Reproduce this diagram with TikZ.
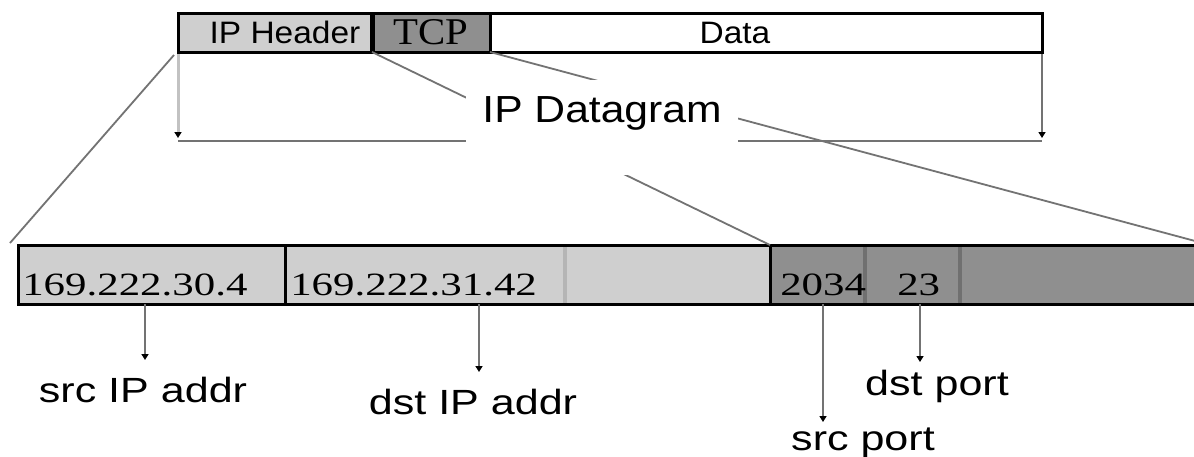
\documentclass[tikz,border=0pt]{standalone}
\usepackage{fontspec}
\setmainfont{Liberation Serif}
\setsansfont{Liberation Sans}
\usetikzlibrary{arrows.meta}
\definecolor{lightcell}{HTML}{CFCFCF}
\definecolor{darkcell}{HTML}{8F8F8F}
\definecolor{wire}{HTML}{737373}
\definecolor{paleline}{HTML}{C2C2C2}
\definecolor{sepgray}{HTML}{707070}

\begin{document}
\begin{tikzpicture}[x=1pt,y=-1pt,
    hcell/.style={draw=black,line width=3pt,anchor=north west,minimum height=39pt,inner sep=0,outer sep=0},
    bcell/.style={anchor=north west,minimum height=59pt,inner sep=0,outer sep=0},
    hdrtxt/.style={font=\sffamily\fontsize{31}{31}\selectfont,xscale=1.08,inner sep=0},
    digit/.style={font=\fontsize{32.5}{32.5}\selectfont,xscale=1.32,inner sep=0,anchor=base west},
    field/.style={font=\sffamily\fontsize{35}{35}\selectfont,xscale=1.23,inner sep=0,anchor=base},
    tipdown/.style={-{Triangle[length=6pt,width=7pt,color=black]}},
    pointer/.style={draw=wire,line width=2.2pt,tipdown},
    diag/.style={draw=wire,line width=1.8pt}]
  \useasboundingbox (0,0) rectangle (1194,456);
  \clip (0,0) rectangle (1194,456);
  \fill[white] (0,0) rectangle (1194,456);

  % datagram bar
  \node[hcell,fill=lightcell,minimum width=194pt] (iph) at (178,13) {};
  \node[hcell,fill=darkcell,minimum width=118pt] (tcp) at (iph.north east) {};
  \node[hcell,fill=white,minimum width=552pt] (data) at (tcp.north east) {};
  \draw[line width=5pt] (tcp.north west) -- (tcp.south west);
  \node[hdrtxt] (iphtxt) at ([xshift=10pt]iph.center) {IP Header};
  \node[font=\fontsize{37.8}{37.8}\selectfont,xscale=1.08,inner sep=0] (tcptxt) at (tcp.center) {TCP};
  \node[hdrtxt] (datatxt) at ([xshift=-31pt]data.center) {Data};

  % packet fields
  \node[bcell,fill=lightcell,minimum width=267pt] (c1) at (18,245) {};
  \node[bcell,fill=lightcell,minimum width=280pt] (c2) at (c1.north east) {};
  \node[bcell,fill=lightcell,minimum width=205pt] (c3) at (c2.north east) {};
  \node[bcell,fill=darkcell,minimum width=95pt] (c4) at (c3.north east) {};
  \node[bcell,fill=darkcell,minimum width=95pt] (c5) at (c4.north east) {};
  \node[bcell,fill=darkcell,minimum width=250pt] (c6) at (c5.north east) {};
  \draw[line width=4pt,draw=paleline!80!gray] (c3.north west) -- (c3.south west);
  \foreach \n in {c5,c6}
    \draw[line width=4pt,draw=sepgray] (\n.north west) -- (\n.south west);
  \foreach \n in {c2,c4}
    \draw[line width=3pt] (\n.north west) -- (\n.south west);
  \draw[line width=3pt] (c6.north east) -- (c1.north west) -- (c1.south west) -- (c6.south east);

  \node[digit] (sipval) at ([xshift=4pt,yshift=9pt]c1.south west) {169.222.30.4};
  \node[digit] (dipval) at ([xshift=5pt,yshift=9pt]c2.south west) {169.222.31.42};
  \node[digit] (sptval) at ([xshift=10pt,yshift=9pt]c4.south west) {2034};
  \node[digit] (dptval) at ([xshift=32pt,yshift=9pt]c5.south west) {23};

  % bracket and zoom lines
  \coordinate (bl) at (178,141);
  \coordinate (br) at (1042,141);
  \draw[wire,line width=2.2pt] (bl) -- (br);
  \draw[paleline,line width=3pt,tipdown] ([yshift=-2pt]iph.south west) -- ([yshift=3pt]bl);
  \draw[wire,line width=2.2pt,tipdown] ([yshift=-2pt]data.south east) -- ([yshift=3pt]br);
  \draw[diag] ([xshift=-4pt,yshift=-3pt]iph.south west) -- ([xshift=-8pt,yshift=2pt]c1.north west);
  \draw[diag] (iph.south east) -- (c4.north west);
  \draw[diag] (tcp.south east) -- (c6.north east);
  \node[font=\sffamily\fontsize{37.7}{37.7}\selectfont,xscale=1.13,fill=white,inner sep=0,
        anchor=base,text height=42pt,text depth=53pt,minimum width=240pt] (dgram) at (602,122) {IP Datagram};

  % field names
  \node[field] (srcip) at (143,402) {src IP addr};
  \node[field] (dstip) at (473,414) {dst IP addr};
  \node[field] (dstpt) at (937,395) {dst port};
  \node[field] (srcpt) at (863,450) {src port};
  \draw[pointer] ([xshift=-6.5pt]c1.south) -- ([xshift=2pt,yshift=42pt]srcip.base);
  \draw[pointer] ([xshift=54pt]c2.south) -- ([xshift=6pt,yshift=42pt]dstip.base);
  \draw[pointer] ([xshift=5.5pt]c4.south) -- ([xshift=-40pt,yshift=28pt]srcpt.base);
  \draw[pointer] ([xshift=7.5pt]c5.south) -- ([xshift=-17pt,yshift=33pt]dstpt.base);
\end{tikzpicture}
\end{document}
